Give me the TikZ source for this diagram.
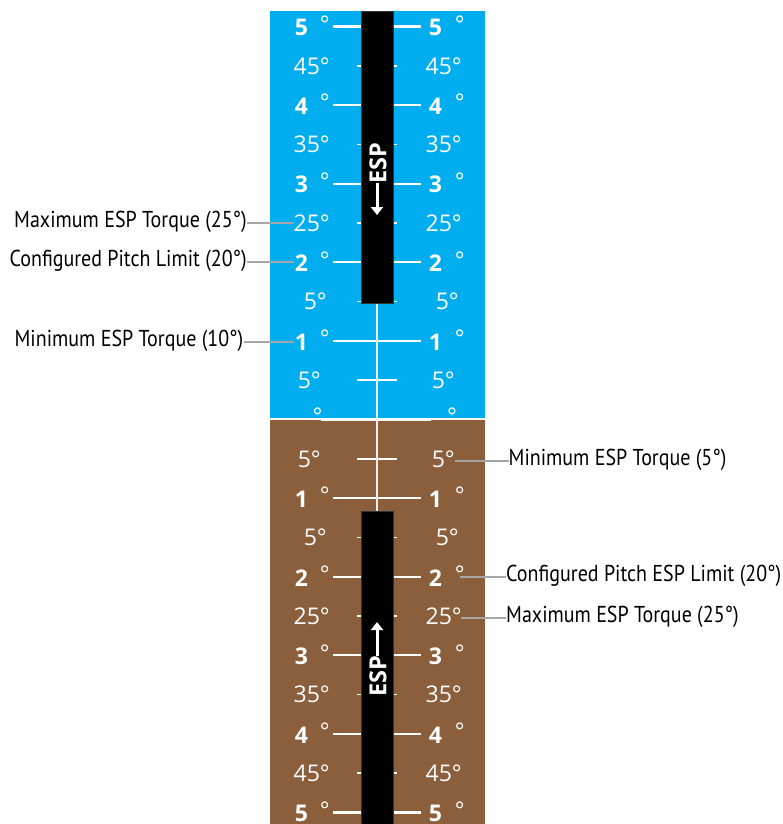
\documentclass[tikz,border=0pt]{standalone}
\usepackage{fontspec}
\setmainfont{PT Sans}
\newfontfamily\scalefont{Open Sans}
\newfontfamily\callfont[FakeStretch=0.87]{PT Sans}
\usetikzlibrary{arrows.meta}
\definecolor{skyblue}{RGB}{0,174,239}
\definecolor{ground}{RGB}{139,94,60}
\definecolor{leadgray}{RGB}{166,166,166}
\tikzset{
  majortick/.style={white, line width=2.2pt},
  minortick/.style={white, line width=1.6pt},
  centerline/.style={white!88!gray, line width=1.1pt},
  espbar/.style={fill=black, draw=black!80, line width=0.8pt},
  majornum/.style={text=white, inner sep=0pt, font=\scalefont\bfseries\fontsize{23}{23}\selectfont},
  degsign/.style={text=white, inner sep=0pt, anchor=north, font=\scalefont\fontsize{23}{23}\selectfont},
  minornum/.style={text=white, inner sep=0pt, anchor=east, font=\scalefont\fontsize{23}{23}\selectfont},
  esptext/.style={text=white, inner sep=0pt, rotate=90, font=\scalefont\bfseries\fontsize{23.5}{23.5}\selectfont},
  esparrow/.style={white, line width=3pt, -{Triangle[length=8pt,width=12pt]}},
  callout/.style={text=black, inner sep=0pt, font=\callfont\fontsize{23}{23}\selectfont},
  leader/.style={leadgray, line width=2pt}
}
\begin{document}
\begin{tikzpicture}[x=1pt,y=-1pt]
\useasboundingbox (0,0) rectangle (783,824);
% sky and ground
\fill[skyblue] (270,11) rectangle (485,418.5);
\fill[ground] (270,419.5) rectangle (485,824);
\draw[white, line width=2pt] (270,418.8) -- (485,418.8);
\draw[white!92!gray, line width=1.6pt] (321,420.6) -- (431,420.6);
% ticks
\foreach \t in {50,40,30,20,10,-10,-20,-30,-40,-50}{
  \pgfmathsetmacro\yy{419.5-7.86*\t}
  \draw[majortick] (333,\yy) -- (421,\yy);
}
\foreach \t in {45,35,25,15,5,-5,-15,-25,-35,-45}{
  \pgfmathsetmacro\yy{419.5-7.86*\t}
  \draw[minortick] (357,\yy) -- (397,\yy);
}
% centre line
\draw[centerline] (377,303) -- (377,511);
% ESP bars
\draw[espbar] (361,11) rectangle (393,303);
\draw[espbar] (361,511) rectangle (393,824);
% major labels
\foreach \t/\d in {50/5,40/4,30/3,20/2,10/1,-10/1,-20/2,-30/3,-40/4,-50/5}{
  \pgfmathsetmacro\yy{419.5-7.86*\t}
  \node[majornum] at (301.5,\yy+1) {\d};
  \node[degsign] at (324.8,\yy-11) {°};
  \node[majornum] at (435.5,\yy+1) {\d};
  \node[degsign] at (459.7,\yy-11) {°};
}
% minor labels
\foreach \t/\s/\l/\r in {45/45°/330/462,35/35°/330/462,25/25°/330/462,15/5°/327/459,5/5°/321/455,
                         -5/5°/321/455,-15/5°/327/459,-25/25°/330/462,-35/35°/330/462,-45/45°/330/462}{
  \pgfmathsetmacro\yy{419.5-7.86*\t}
  \node[minornum] at (\l,\yy) {\s};
  \node[minornum] at (\r,\yy) {\s};
}
% zero
\node[degsign] at (317.5,407.5) {°};
\node[degsign] at (452,407.5) {°};
% ESP texts and arrows
\node[esptext] (esptop) at (378,163) {ESP};
\coordinate (esptopa) at (377,183);
\coordinate (esptopb) at (377,215);
\draw[esparrow] (esptopa) -- (esptopb);
\node[esptext] (espbot) at (378,676.5) {ESP};
\coordinate (espbota) at (377,656);
\coordinate (espbotb) at (377,622);
\draw[esparrow] (espbota) -- (espbotb);
% left callouts
\node[callout, anchor=east] (maxL) at (247,221.5) {Maximum ESP Torque (25°)};
\coordinate (maxLend) at (294,222.7);
\draw[leader] (maxL.east |- maxLend) -- (maxLend);
\node[callout, anchor=east] (cfgL) at (247,261) {Configured Pitch Limit (20°)};
\coordinate (cfgLend) at (294,262);
\draw[leader] (cfgL.east |- cfgLend) -- (cfgLend);
\node[callout, anchor=east] (minL) at (243.5,340.5) {Minimum ESP Torque (10°)};
\coordinate (minLend) at (294,341.7);
\draw[leader] (minL.east |- minLend) -- (minLend);
% right callouts
\node[callout, anchor=west] (minR) at (508.5,460) {Minimum ESP Torque (5°)};
\coordinate (minRst) at (455,460.7);
\draw[leader] (minRst) -- (minR.west |- minRst);
\node[callout, anchor=west] (cfgR) at (506,576) {Configured Pitch ESP Limit (20°)};
\coordinate (cfgRst) at (460,576.7);
\draw[leader] (cfgRst) -- (cfgR.west |- cfgRst);
\node[callout, anchor=west] (maxR) at (506,617.3) {Maximum ESP Torque (25°)};
\coordinate (maxRst) at (461,618);
\draw[leader] (maxRst) -- (maxR.west |- maxRst);
\end{tikzpicture}
\end{document}
